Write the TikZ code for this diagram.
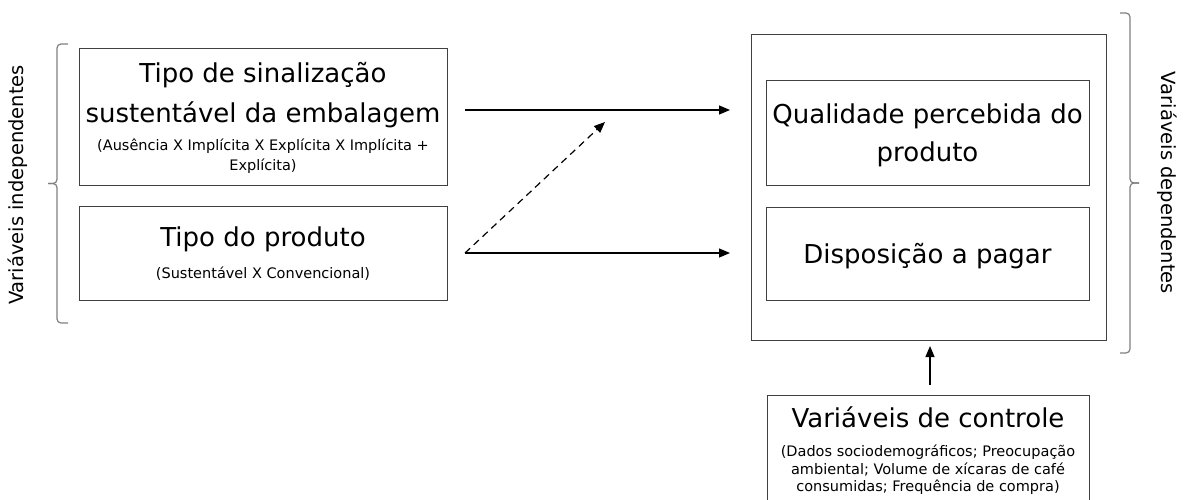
\documentclass[tikz,border=0pt]{standalone}
\usepackage{fontspec}
\setmainfont{DejaVu Sans}
\usetikzlibrary{arrows.meta}
\newcommand{\bigtxt}{\fontsize{26}{20}\selectfont}
\newcommand{\smtxt}{\fontsize{14.5}{20}\selectfont}
\newcommand{\ctltxt}{\fontsize{14.5}{17.5}\selectfont}
\newcommand{\sidetxt}{\fontsize{19.5}{22}\selectfont}
\begin{document}
\lineskiplimit=-50pt
\begin{tikzpicture}[x=1pt, y=-1pt,
    box/.style={draw=black!75, line width=1pt, align=center, inner sep=0pt, font=\smtxt},
    arr/.style={-{Triangle[length=11pt,width=9pt]}, line width=1.2pt},
    brc/.style={draw=black!50, line width=1.2pt, rounded corners=4pt}]
    \useasboundingbox (0,0) rectangle (1184,499);

    % independentes
    \node[box, minimum width=368, minimum height=137, text depth=-4pt] (sinal) at (263,116.5)
        {\bigtxt Tipo de sinalização\\[20pt] \bigtxt sustentável da embalagem\\[8pt]
         \smtxt (Ausência X Implícita X Explícita X Implícita +\\ \smtxt Explícita)};
    \node[box, minimum width=368, minimum height=94, text depth=-14pt] (produto) at (263,253)
        {\bigtxt Tipo do produto\\[12pt] \smtxt (Sustentável X Convencional)};

    % dependentes
    \node[box, minimum width=355, minimum height=306] (dep) at (928.5,187) {};
    \node[box, minimum width=323, minimum height=105, text depth=-7pt] (qual) at (927.5,132.5)
        {\bigtxt Qualidade percebida do\\[18pt] \bigtxt produto};
    \node[box, minimum width=323, minimum height=93, text depth=-6pt] (disp) at (927.5,253.5)
        {\bigtxt Disposição a pagar};

    % controle
    \node[box, font=\ctltxt, minimum width=322, anchor=north, inner ysep=11pt] (controle) at (928,395)
        {\bigtxt Variáveis de controle\\[12pt] \ctltxt (Dados sociodemográficos; Preocupação\\
         \ctltxt ambiental; Volume de xícaras de café\\ \ctltxt consumidas; Frequência de compra)};

    \coordinate (s1) at (465,110);
    \coordinate (e1) at (730,110);
    \coordinate (s2) at (465,253);
    \coordinate (e2) at (730,253);
    \coordinate (m) at (605,122);
    \draw[arr] (s1) -- (e1);
    \draw[arr] (s2) -- (e2);
    \draw[arr, dashed, dash pattern=on 7pt off 5pt] (s2) -- (m);
    \coordinate (c0) at (930,385);
    \coordinate (c1) at (930,346);
    \draw[arr] (c0) -- (c1);

    % chaves
    \draw[brc] (68,44) -- (57,44) -- (57,183.5) -- (48,183.5);
    \draw[brc] (48,183.5) -- (57,183.5) -- (57,323) -- (68,323);
    \draw[brc] (1120,13) -- (1130,13) -- (1130,183) -- (1139,183);
    \draw[brc] (1139,183) -- (1130,183) -- (1130,353) -- (1120,353);

    \node[rotate=90, font=\sidetxt] (indep) at (18,185) {Variáveis independentes};
    \node[rotate=-90, font=\sidetxt] (depl) at (1167,183) {Variáveis dependentes};
\end{tikzpicture}
\end{document}
